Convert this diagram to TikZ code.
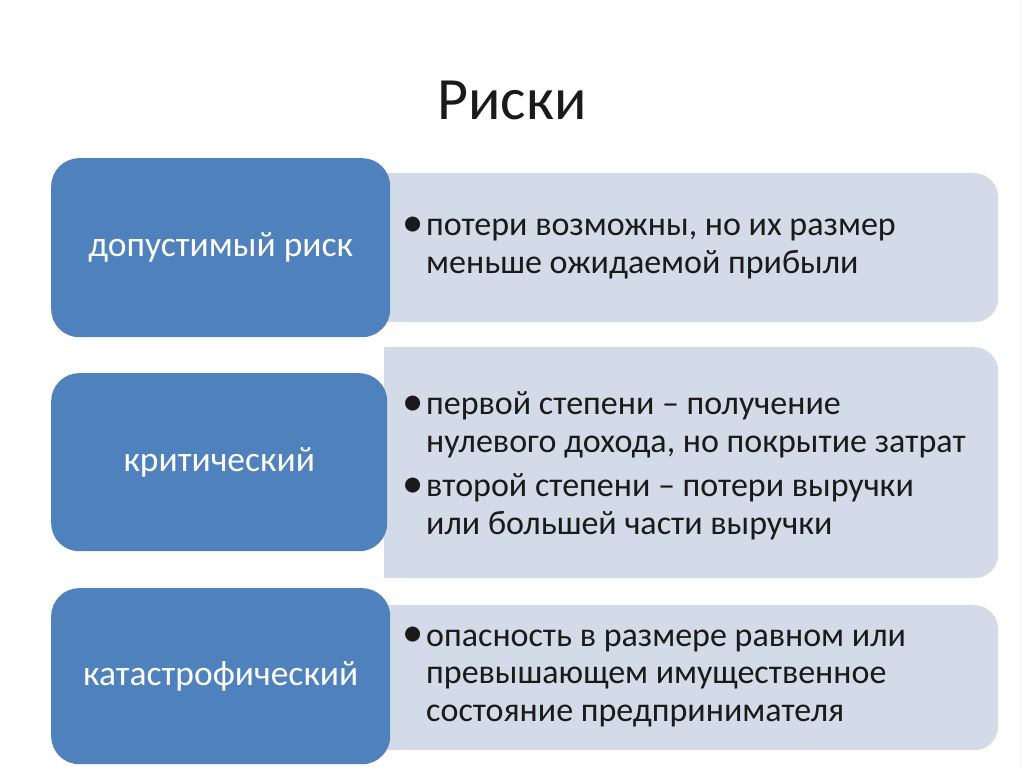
\documentclass[tikz,border=0pt]{standalone}
\usepackage{fontspec}
\setmainfont{Carlito}
\definecolor{boxblue}{HTML}{4F81BD}
\definecolor{panelcol}{HTML}{D3DBE8}
\definecolor{txt}{HTML}{1A1A1A}
\definecolor{edge}{HTML}{EDEDED}
\begin{document}
\begin{tikzpicture}[x=1pt,y=-1pt,
  bluebox/.style={fill=boxblue, rounded corners=28pt, anchor=north west, inner sep=0pt},
  bluetext/.style={text=white, font=\fontsize{35.5}{40}\selectfont},
  panel/.style={fill=panelcol, rounded corners=24pt, anchor=north west, inner sep=0pt},
  paneltext/.style={anchor=west, align=left, inner sep=0pt, text=txt,
    font=\fontsize{34}{37.5}\selectfont},
  title/.style={font=\fontsize{60}{66}\selectfont, text=txt}
]
\useasboundingbox[fill=white] (0,0) rectangle (1024,767);
\draw[edge, line width=1pt] (1020.5,0) -- (1020.5,767);
\newcommand{\bul}{\makebox[16pt][l]{\hspace*{-8pt}\raisebox{-0.5pt}{\scalebox{1.25}{•}}}}
\newcommand{\ind}{\hspace*{16pt}}

\node[title] (title) at (512,100) {Риски};

% panels
\node[panel, minimum width=613pt, minimum height=149pt] (p1) at (385,173) {};
\fill[panelcol] (p1.north west) rectangle ([xshift=40pt]p1.south west);
\node[panel, minimum width=614pt, minimum height=231pt] (p2) at (384,347) {};
\fill[panelcol] (p2.north west) rectangle ([xshift=40pt]p2.south west);
\node[panel, minimum width=613pt, minimum height=145pt] (p3) at (385,605) {};
\fill[panelcol] (p3.north west) rectangle ([xshift=40pt]p3.south west);

% blue boxes
\node[bluebox, minimum width=339pt, minimum height=179pt] (b1) at (51,158) {};
\node[bluetext] (b1t) at (b1.center) {допустимый риск};
\node[bluebox, minimum width=336pt, minimum height=178pt] (b2) at (51,373) {};
\node[bluetext] (b2t) at (b2.center) {критический};
\node[bluebox, minimum width=339pt, minimum height=176pt] (b3) at (51,588) {};
\node[bluetext] (b3t) at (b3.center) {катастрофический};

% panel texts
\node[paneltext] (t1) at (410,248) {\bul потери возможны, но их размер\\ \ind меньше ожидаемой прибыли};
\node[paneltext] (t2) at (410,466) {\bul первой степени – получение\\ \ind нулевого дохода, но покрытие затрат\\[7pt]
  \bul второй степени – потери выручки\\ \ind или большей части выручки};
\node[paneltext] (t3) at (410,677) {\bul опасность в размере равном или\\ \ind превышающем имущественное\\ \ind состояние предпринимателя};
\end{tikzpicture}
\end{document}
